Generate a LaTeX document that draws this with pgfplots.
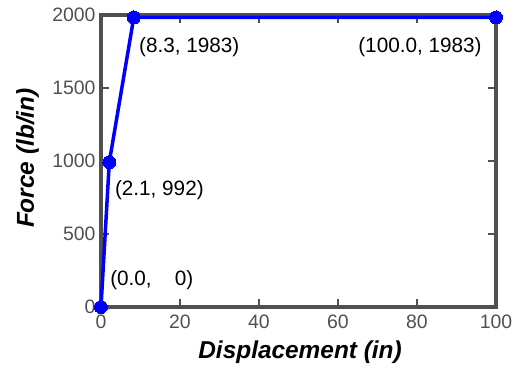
\documentclass[border=0pt]{standalone}
\usepackage{pgfplots}
\pgfplotsset{compat=1.18}
\usepackage{fontspec}
\setmainfont{Liberation Sans}
\definecolor{axgray}{HTML}{505050}
\begin{document}
\begin{tikzpicture}
\path[use as bounding box] (-101bp,-62bp) rectangle (412bp,307bp);
\begin{axis}[
  at={(0,0)}, anchor=south west,
  scale only axis, width=395bp, height=292bp,
  xmin=0, xmax=100, ymin=0, ymax=2000,
  xtick={0,20,40,60,80,100},
  ytick={0,500,1000,1500,2000},
  clip=false,
  axis line style={axgray, line width=3.5bp},
  tick style={axgray, line width=2bp},
  major tick length=8bp,
  tick align=inside,
  /pgf/number format/assume math mode=true,
  /pgf/number format/1000 sep={},
  ticklabel style={font=\fontsize{19.5}{19.5}\selectfont, text=axgray},
  xticklabel style={yshift=-4.5bp},
  yticklabel style={xshift=-2bp},
  xlabel={\bfseries\itshape Displacement (in)},
  ylabel={\bfseries\itshape Force (lb/in)},
  label style={font=\fontsize{24.5}{24.5}\selectfont, text=black},
  xlabel style={at={(axis description cs:0.504,-0.178)}, anchor=base},
  ylabel style={at={(axis description cs:-0.17,0.51)}, anchor=base, rotate=0},
]
\addplot[blue, line width=3.5bp, mark=*, mark size=6.5bp, mark options={fill=blue, draw=blue, line width=0bp}]
  coordinates {(0,0) (2.1,992) (8.3,1983) (100,1983)};
\begin{scope}[every node/.style={font=\fontsize{20.8}{20.8}\selectfont, anchor=west, inner sep=0pt}]
\node at (axis cs:9.6,1781) {(8.3, 1983)};
\node at (axis cs:65.1,1781) {(100.0, 1983)};
\node at (axis cs:3.5,801) {(2.1, 992)};
\node at (axis cs:2.3,185) {(0.0,\ \ \ \ 0)};
\end{scope}
\end{axis}
\end{tikzpicture}
\end{document}
